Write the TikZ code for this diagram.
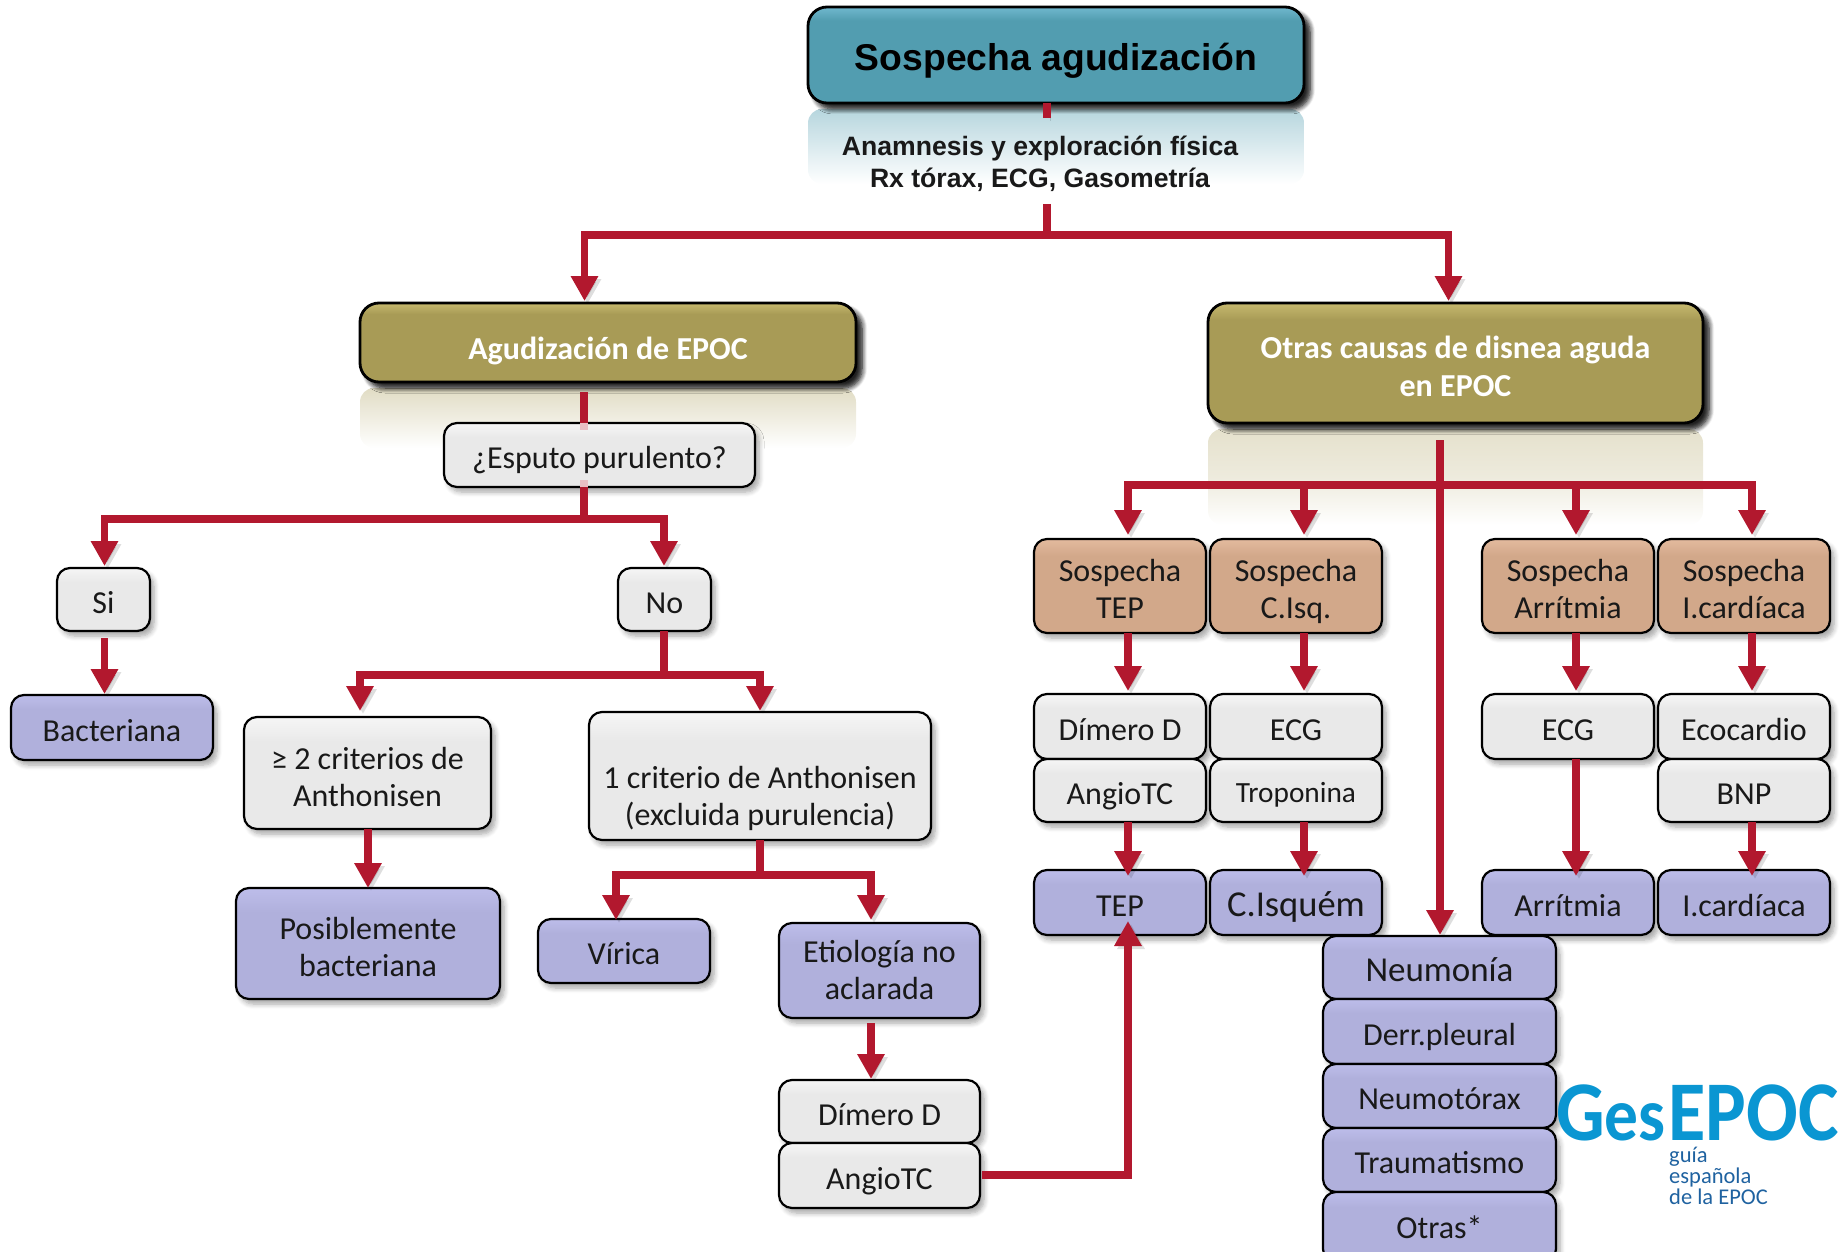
\documentclass[tikz,border=0pt]{standalone}
\usepackage{fontspec}
\setmainfont{Carlito}
\newfontfamily\hdfont{Liberation Sans}
\usetikzlibrary{arrows.meta,shadows.blur}
\definecolor{lineR}{HTML}{B2182E}
\definecolor{tealM}{HTML}{529DB0}\definecolor{tealL}{HTML}{70B8CE}
\definecolor{goldM}{HTML}{A89B56}\definecolor{goldL}{HTML}{C6B96E}
\definecolor{whtM}{HTML}{E9E9E9}\definecolor{whtL}{HTML}{F6F6F6}
\definecolor{tanM}{HTML}{D2A88A}\definecolor{tanL}{HTML}{E3BA9E}
\definecolor{lavM}{HTML}{B0B0DC}\definecolor{lavL}{HTML}{BDBDEA}
\definecolor{logoB}{HTML}{0A96D2}\definecolor{logoD}{HTML}{1F62A0}
\pgfdeclareverticalshading{shTeal}{100bp}{color(0bp)=(tealM);color(25bp)=(tealM);color(68bp)=(tealM);color(75bp)=(tealL);color(100bp)=(tealL)}
\pgfdeclareverticalshading{shGold}{100bp}{color(0bp)=(goldM);color(25bp)=(goldM);color(68bp)=(goldM);color(75bp)=(goldL);color(100bp)=(goldL)}
\pgfdeclareverticalshading{shWht}{100bp}{color(0bp)=(whtM);color(25bp)=(whtM);color(64bp)=(whtM);color(75bp)=(whtL);color(100bp)=(whtL)}
\pgfdeclareverticalshading{shTan}{100bp}{color(0bp)=(tanM);color(25bp)=(tanM);color(66bp)=(tanM);color(75bp)=(tanL);color(100bp)=(tanL)}
\pgfdeclareverticalshading{shLav}{100bp}{color(0bp)=(lavM);color(25bp)=(lavM);color(64bp)=(lavM);color(75bp)=(lavL);color(100bp)=(lavL)}
\newcommand{\topstrut}{34pt}
\newcommand{\up}[1]{\rule{0pt}{#1pt}}
\tikzset{
 setstrut/.code={\renewcommand{\topstrut}{#1}},
 basebox/.style={draw=black,line width=2.2pt,rounded corners=13pt,outer sep=0pt,inner sep=0pt,align=center,
   font=\fontsize{32}{37}\selectfont,text=black!90,
   execute at begin node={\rule{0pt}{\topstrut}},
   execute at end node={\rule[-7pt]{0pt}{0pt}},
   blur shadow={shadow xshift=4pt,shadow yshift=-5pt,shadow blur steps=6,shadow blur radius=5pt,shadow opacity=35}},
 bigbox/.style={basebox,line width=2.8pt,rounded corners=19pt,
   blur shadow={shadow xshift=6pt,shadow yshift=-6pt,shadow blur steps=6,shadow blur radius=5pt,shadow opacity=65}},
 tealbox/.style={bigbox,shading=shTeal,setstrut=39pt,font=\hdfont\bfseries\fontsize{37.3}{44}\selectfont,text=black},
 goldbox/.style={bigbox,shading=shGold,text=white,font=\bfseries\fontsize{32}{38}\selectfont},
 whitebox/.style={basebox,shading=shWht},
 tanbox/.style={basebox,shading=shTan},
 lavbox/.style={basebox,shading=shLav},
 exambox/.style={font=\hdfont\bfseries\fontsize{26.6}{32}\selectfont,text=black!90,align=center,inner sep=0pt,outer sep=0pt},
 conn/.style={draw=lineR,line width=7.5pt,line join=miter,
   preaction={draw=black,opacity=.13,transform canvas={shift={(3pt,-3pt)}}}},
 arrow/.style={conn,-{Triangle[length=25pt,width=26pt]},shorten >=2pt},
 twoarrow/.style={conn,{Triangle[length=25pt,width=26pt]}-{Triangle[length=25pt,width=26pt]},shorten >=2pt,shorten <=2pt},
 pale/.style={draw=lineR!28!white,line width=7.5pt},
}
\newcommand{\flowbox}[7][whitebox]{%
 \pgfmathsetmacro{\wdd}{#5-#3}\pgfmathsetmacro{\htt}{#6-#4}%
 \pgfmathsetmacro{\cxx}{(#5+#3)/2}\pgfmathsetmacro{\cyy}{(#6+#4)/2}%
 \node[#1,minimum width=\wdd pt,minimum height=\htt pt] (#2) at (\cxx,\cyy) {#7};}
\begin{document}
\begin{tikzpicture}[x=1pt,y=-1pt]
\useasboundingbox (0,0) rectangle (1839,1252);
% reflections
\shade[top color=tealM!42!white,bottom color=white,rounded corners=14pt] (808,109) rectangle (1304,184);
\shade[top color=goldM!35!white,bottom color=white,rounded corners=14pt] (360,388) rectangle (856,448);
\shade[top color=goldM!30!white,bottom color=white,middle color=goldM!20!white,rounded corners=14pt] (1208,429) rectangle (1703,525);
% column coordinates
\coordinate (cMain) at (1047,0);
\coordinate (cA) at (584.5,0);
\coordinate (cO) at (1448.5,0);
\coordinate (cAe) at (584,0);
\coordinate (cSi) at (104.5,0);
\coordinate (cNo) at (664,0);
\coordinate (cCrit) at (360,0);
\coordinate (cOne) at (760,0);
\coordinate (cPos) at (368,0);
\coordinate (cVir) at (616,0);
\coordinate (cEti) at (871,0);
\coordinate (cT) at (1128,0);
\coordinate (cI) at (1304,0);
\coordinate (cS) at (1440,0);
\coordinate (cR) at (1576,0);
\coordinate (cC) at (1752,0);
\coordinate (jMain) at (1047,235);
\coordinate (jEsp) at (584,519);
\coordinate (jNo) at (664,675);
\coordinate (jOne) at (760,875);
\coordinate (jOtr) at (1440,485);
\coordinate (jTep) at (1128,1175);
% boxes
\flowbox[tealbox]{top}{808}{7}{1304}{103}{Sospecha agudización}
\node[exambox,minimum width=496pt,minimum height=86pt] (exam) at (1040,161) {\rule{0pt}{26pt}Anamnesis y exploración física\\Rx tórax, ECG, Gasometría};
\flowbox[goldbox,setstrut=40pt]{agud}{360}{303}{856}{382}{Agudización de EPOC}
\flowbox[goldbox]{otras}{1208}{303}{1703}{423}{\up{36}Otras causas de disnea aguda\\en EPOC}
\flowbox{esp}{444}{423}{755}{487}{¿Esputo purulento?}
\flowbox{si}{57}{568}{150}{631}{Si}
\flowbox{no}{618}{568}{711}{631}{No}
\flowbox[lavbox]{bac}{11}{695}{213}{760}{Bacteriana}
\flowbox{crit}{244}{717}{491}{829}{\up{36}≥ 2 criterios de\\Anthonisen}
\flowbox{one}{589}{712}{931}{840}{\up{68}1 criterio de Anthonisen\\(excluida purulencia)}
\flowbox[lavbox]{pos}{236}{888}{500}{999}{\up{36}Posiblemente\\bacteriana}
\flowbox[lavbox]{vir}{538}{919}{710}{983}{Vírica}
\flowbox[lavbox]{eti}{779}{923}{980}{1018}{\up{28}Etiología no\\aclarada}
\flowbox{dim2}{779}{1080}{980}{1143}{Dímero D}
\flowbox{ang2}{779}{1143}{980}{1208}{AngioTC}
\flowbox[tanbox]{sT}{1034}{539}{1206}{633}{\up{34}Sospecha\\TEP}
\flowbox[tanbox]{sI}{1210}{539}{1382}{633}{\up{34}Sospecha\\C.Isq.}
\flowbox[tanbox]{sR}{1482}{539}{1654}{633}{\up{34}Sospecha\\Arrítmia}
\flowbox[tanbox]{sC}{1658}{539}{1830}{633}{\up{34}Sospecha\\I.cardíaca}
\flowbox{dim}{1034}{694}{1206}{759}{Dímero D}
\flowbox{ang}{1034}{759}{1206}{822}{AngioTC}
\flowbox{ecg}{1210}{694}{1382}{759}{ECG}
\flowbox[whitebox,setstrut=31pt]{tro}{1210}{759}{1382}{822}{\fontsize{29.3}{33}\selectfont Troponina}
\flowbox{ecgr}{1482}{694}{1654}{759}{ECG}
\flowbox{eco}{1658}{694}{1830}{759}{Ecocardio}
\flowbox{bnp}{1658}{759}{1830}{822}{BNP}
\flowbox[lavbox]{rT}{1034}{870}{1206}{935}{TEP}
\flowbox[lavbox]{rI}{1210}{870}{1382}{935}{\fontsize{36.5}{37}\selectfont C.Isquém}
\flowbox[lavbox]{rR}{1482}{870}{1654}{935}{Arrítmia}
\flowbox[lavbox]{rC}{1658}{870}{1830}{935}{I.cardíaca}
\flowbox[lavbox]{neu}{1323}{936}{1556}{999}{\fontsize{35}{37}\selectfont Neumonía}
\flowbox[lavbox]{der}{1323}{999}{1556}{1064}{Derr.pleural}
\flowbox[lavbox]{nmt}{1323}{1064}{1556}{1128}{Neumotórax}
\flowbox[lavbox]{tra}{1323}{1128}{1556}{1192}{Traumatismo}
\flowbox[lavbox,setstrut=30pt]{otr}{1323}{1192}{1556}{1262}{Otras*}
% logo
\node[anchor=base west,inner sep=0pt,text=logoB,font=\bfseries\fontsize{85}{85}\selectfont,xscale=.9,transform shape] (logo) at (1556,1140) {G\fontsize{75}{75}\selectfont es\kern3pt\fontsize{85}{85}\selectfont EPOC};
\node[anchor=north west,inner sep=0pt,text=logoD,align=left,font=\fontsize{22.5}{21}\selectfont] (sub) at (1669,1147) {guía\\española\\de la EPOC};
% connectors
\draw[conn] (top.south -| cMain) -- (exam.north -| cMain);
\draw[conn] (exam.south -| cMain) -- (jMain);
\draw[twoarrow] (agud.north -| cA) |- (jMain) -| (otras.north -| cO);
\draw[conn,shorten <=10pt] (agud.south -| cAe) -- (esp.north -| cAe);
\draw[pale] (esp.north -| cAe) -- ++(0,7);
\draw[pale] (esp.south -| cAe) -- ++(0,-7);
\draw[conn] (esp.south -| cAe) -- (jEsp);
\draw[twoarrow] (si.north -| cSi) |- (jEsp) -| (no.north -| cNo);
\draw[arrow,shorten <=7pt,shorten >=1pt] (si.south -| cSi) -- (bac.north -| cSi);
\draw[conn] (no.south -| cNo) -- (jNo);
\draw[twoarrow,shorten >=1pt,shorten <=6pt] (crit.north -| cCrit) |- (jNo) -| (one.north -| cOne);
\draw[arrow,shorten >=0pt] (crit.south -| cPos) -- (pos.north -| cPos);
\draw[conn] (one.south -| cOne) -- (jOne);
\draw[twoarrow,shorten >=3pt,shorten <=-1pt] (vir.north -| cVir) |- (jOne) -| (eti.north -| cEti);
\draw[arrow,shorten <=5pt,shorten >=1pt] (eti.south -| cEti) -- (dim2.north -| cEti);
\draw[arrow,shorten <=2pt,shorten >=-14pt] (ang2.east |- jTep) -- (jTep) -- (rT.south -| cT);
\draw[conn,shorten <=17pt] (otras.south -| cS) -- (jOtr);
\draw[arrow,shorten >=1pt] (jOtr) -- (neu.north -| cS);
\draw[twoarrow,shorten >=4pt,shorten <=4pt] (sT.north -| cT) |- (jOtr) -| (sC.north -| cC);
\draw[arrow,shorten >=4pt] (jOtr -| cI) -- (sI.north -| cI);
\draw[arrow,shorten >=4pt] (jOtr -| cR) -- (sR.north -| cR);
\draw[arrow,shorten >=3pt] (sT.south -| cT) -- (dim.north -| cT);
\draw[arrow,shorten >=3pt] (sI.south -| cI) -- (ecg.north -| cI);
\draw[arrow,shorten >=3pt] (sR.south -| cR) -- (ecgr.north -| cR);
\draw[arrow,shorten >=3pt] (sC.south -| cC) -- (eco.north -| cC);
\draw[arrow,shorten >=-6pt] (ang.south -| cT) -- (rT.north -| cT);
\draw[arrow,shorten >=-6pt] (tro.south -| cI) -- (rI.north -| cI);
\draw[arrow,shorten >=-6pt] (ecgr.south -| cR) -- (rR.north -| cR);
\draw[arrow,shorten >=-6pt] (bnp.south -| cC) -- (rC.north -| cC);
\end{tikzpicture}
\end{document}
